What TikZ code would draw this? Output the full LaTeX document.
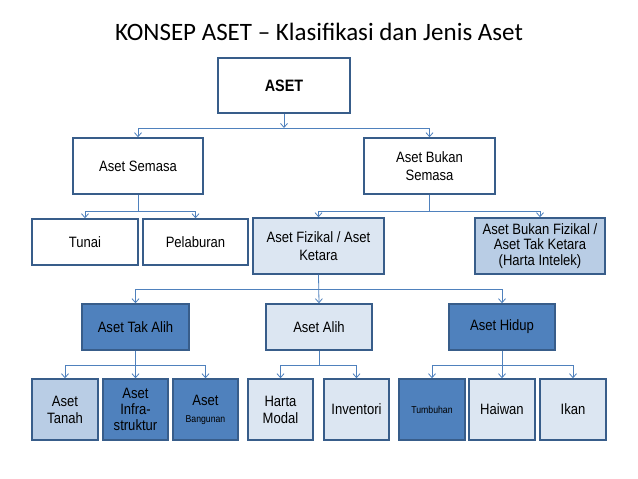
\documentclass[tikz,border=0pt]{standalone}
\usepackage{fontspec}
\setmainfont{Liberation Sans}[FakeStretch=0.87]
\newfontfamily\titlefont{Carlito}
\usetikzlibrary{arrows.meta}
\definecolor{bord}{HTML}{385D8A}
\definecolor{dark}{HTML}{4F81BD}
\definecolor{light}{HTML}{DCE6F2}
\definecolor{mid}{HTML}{B9CDE5}
\definecolor{wire}{HTML}{4F81BD}
\tikzset{
  box/.style={draw=bord, line width=1.5pt, fill=white, inner sep=0pt, align=center,
    font=\fontsize{15}{17}\selectfont},
  darkbox/.style={box, fill=dark},
  lightbox/.style={box, fill=light},
  midbox/.style={box, fill=mid},
  conn/.style={draw=wire, line width=0.8pt, -{Straight Barb[length=4pt,width=7pt]}},
  wireline/.style={draw=wire, line width=0.8pt},
}
\begin{document}
\begin{tikzpicture}[x=1pt,y=-1pt]
\useasboundingbox (0,0) rectangle (638,479);
\fill[white] (0,0) rectangle (638,479);
\node[anchor=base, font=\titlefont\fontsize{25}{28}\selectfont] (title) at (319,41) {KONSEP ASET – Klasifikasi dan Jenis Aset};

\node[box, minimum width=132pt, minimum height=55pt, font=\fontsize{16.5}{18}\selectfont\bfseries] (aset) at (284,85.5) {ASET};
\node[box, minimum width=130pt, minimum height=56pt] (semasa) at (138,166) {Aset Semasa};
\node[box, minimum width=131pt, minimum height=56pt, font=\fontsize{15}{18}\selectfont] (bukan) at (429.5,166) {Aset Bukan\\Semasa};
\node[box, minimum width=106pt, minimum height=46pt] (tunai) at (85,242) {Tunai};
\node[box, minimum width=105pt, minimum height=46pt] (pelab) at (195.5,242) {Pelaburan};
\node[lightbox, minimum width=131pt, minimum height=56pt, font=\fontsize{15}{18}\selectfont] (fiz) at (318.5,246) {Aset Fizikal / Aset\\Ketara};
\node[midbox, minimum width=130pt, minimum height=56pt, font=\fontsize{15}{15.5}\selectfont] (bfiz) at (540,246) {Aset Bukan Fizikal /\\Aset Tak Ketara\\(Harta Intelek)};
\node[darkbox, minimum width=107pt, minimum height=46pt] (takalih) at (135.5,327) {Aset Tak Alih};
\node[lightbox, minimum width=106pt, minimum height=46pt] (alih) at (319,327) {Aset Alih};
\node[darkbox, minimum width=106pt, minimum height=46pt] (hidup) at (502,327) {Aset Hidup};

\node[midbox, minimum width=66pt, minimum height=61pt] (tanah) at (65,409.5) {Aset\\Tanah};
\node[darkbox, minimum width=65pt, minimum height=61pt, font=\fontsize{15}{16}\selectfont] (infra) at (135.5,409.5) {Aset\\Infra-\\struktur};
\node[darkbox, minimum width=65pt, minimum height=61pt] (bang) at (205.5,409.5) {Aset\\{\fontsize{10}{12}\selectfont Bangunan}};
\node[lightbox, minimum width=65pt, minimum height=61pt] (harta) at (280.5,409.5) {Harta\\Modal};
\node[lightbox, minimum width=65pt, minimum height=61pt] (inv) at (356.5,409.5) {Inventori};
\node[darkbox, minimum width=66pt, minimum height=61pt, font=\fontsize{10}{12}\selectfont] (tumb) at (432,409.5) {Tumbuhan};
\node[lightbox, minimum width=66pt, minimum height=61pt] (haiwan) at (502,409.5) {Haiwan};
\node[lightbox, minimum width=66pt, minimum height=61pt] (ikan) at (573,409.5) {Ikan};

\coordinate (b1) at (0,128);
\coordinate (b2) at (0,211);
\coordinate (b3) at (0,289);
\coordinate (b4) at (0,365);

% level 1
\draw[conn] (aset.south) -- (aset.south |- b1);
\draw[conn] (aset.south |- b1) -| (semasa.north);
\draw[conn] (aset.south |- b1) -| (bukan.north);
% level 2
\draw[wireline] (semasa.south) -- (semasa.south |- b2);
\draw[conn] (semasa.south |- b2) -| (tunai.north);
\draw[conn] (semasa.south |- b2) -| (pelab.north);
\draw[wireline] (bukan.south) -- (bukan.south |- b2);
\draw[conn] (bukan.south |- b2) -| (fiz.north);
\draw[conn] (bukan.south |- b2) -| (bfiz.north);
% level 3
\draw[conn] (fiz.south) -- (alih.north);
\draw[conn] (fiz.south |- b3) -| (takalih.north);
\draw[conn] (fiz.south |- b3) -| (hidup.north);
% level 4
\draw[conn] (takalih.south) -- (takalih.south |- infra.north);
\draw[conn] (takalih.south |- b4) -| (tanah.north);
\draw[conn] (takalih.south |- b4) -| (bang.north);
\draw[wireline] (alih.south) -- (alih.south |- b4);
\draw[conn] (alih.south |- b4) -| (harta.north);
\draw[conn] (alih.south |- b4) -| (inv.north);
\draw[conn] (hidup.south) -- (haiwan.north);
\draw[conn] (hidup.south |- b4) -| (tumb.north);
\draw[conn] (hidup.south |- b4) -| (ikan.north);
\end{tikzpicture}
\end{document}
